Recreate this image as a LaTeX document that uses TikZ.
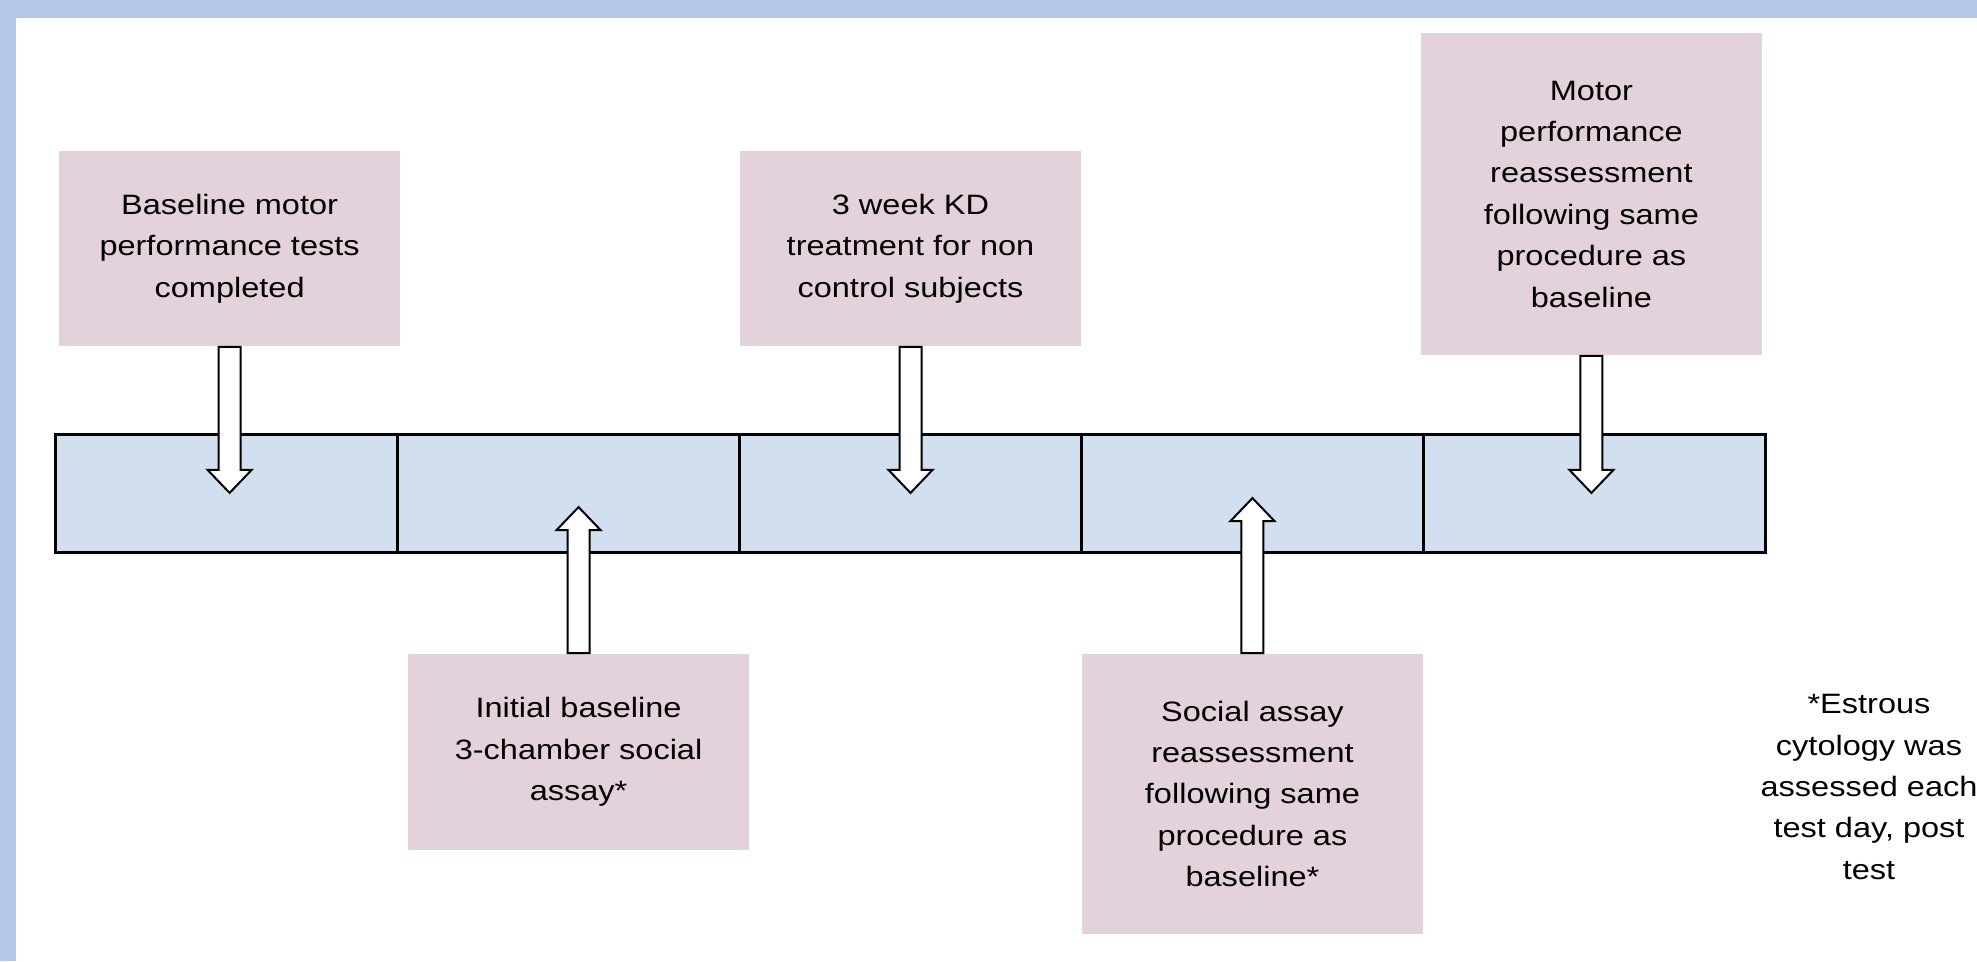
\documentclass[tikz,border=0pt]{standalone}
\usepackage{fontspec}
\setmainfont{Liberation Sans}[FakeStretch=1.16]
\usetikzlibrary{matrix,positioning,calc}

\definecolor{frameblue}{HTML}{B4C7E7}
\definecolor{boxpink}{HTML}{E3D1DC}
\definecolor{barblue}{HTML}{D2DFEE}

% hollow block arrow: #1 start, #2 tip, #3 = 1 down / -1 up
\newcommand{\hollowarrow}[3]{%
  \draw[harrow] ($(#1)+(-11,0)$) -- ($(#2)+(-11,-23*#3)$) -- ($(#2)+(-22,-23*#3)$) -- (#2)
    -- ($(#2)+(22,-23*#3)$) -- ($(#2)+(11,-23*#3)$) -- ($(#1)+(11,0)$) -- cycle;}

\begin{document}
\begin{tikzpicture}[x=0.01cm,y=-0.01cm,
  timeline/.style={matrix of nodes,
    column sep=-\pgflinewidth/2,
    cells={nodes={draw,line width=0.02cm,fill=barblue,minimum width=3.41cm,minimum height=1.17cm}},
    draw,line width=0.025cm,inner sep=0pt},
  nodes in empty cells,
  evbox/.style={fill=boxpink,align=center,minimum width=3.41cm,inner sep=0pt},
  harrow/.style={draw,fill=white,line width=0.02cm,line join=miter},
  font=\fontsize{7.97pt}{11.78pt}\selectfont,
  node distance=0.87cm]

 \useasboundingbox (0,0) rectangle (1977,961);
 \fill[frameblue] (0,0) rectangle (1977,18);
 \fill[frameblue] (0,0) rectangle (16,961);

 \matrix[timeline] (bar) at (910.5,493.5) {
   & & & & \\
   };

 \node[evbox,minimum height=1.95cm,above=of bar-1-1,xshift=0.03cm] (base) {Baseline motor\\performance tests\\completed};
 \node[evbox,minimum height=1.95cm,above=of bar-1-3] (kd) {3 week KD\\treatment for non\\control subjects};
 \node[evbox,minimum height=3.22cm,above=0.78cm of bar-1-5,xshift=-0.03cm] (motor) {Motor\\performance\\reassessment\\following same\\procedure as\\baseline};
 \node[evbox,minimum height=1.96cm,below=1cm of bar-1-2,xshift=0.1cm] (social) {Initial baseline\\3-chamber social\\assay*};
 \node[evbox,minimum height=2.8cm,below=1cm of bar-1-4] (resocial) {Social assay\\reassessment\\following same\\procedure as\\baseline*};
 \node[align=center] (note) at (1869,787) {*Estrous\\cytology was\\assessed each\\test day, post\\test};

 \coordinate (t1) at ($(base.south)+(0,146)$);
 \coordinate (t2) at ($(social.north)+(0,-146)$);
 \coordinate (t3) at ($(kd.south)+(0,146)$);
 \coordinate (t4) at ($(resocial.north)+(0,-155)$);
 \coordinate (t5) at ($(motor.south)+(0,137)$);

 \hollowarrow{base.south}{t1}{1}
 \hollowarrow{social.north}{t2}{-1}
 \hollowarrow{kd.south}{t3}{1}
 \hollowarrow{resocial.north}{t4}{-1}
 \hollowarrow{motor.south}{t5}{1}

\end{tikzpicture}
\end{document}
